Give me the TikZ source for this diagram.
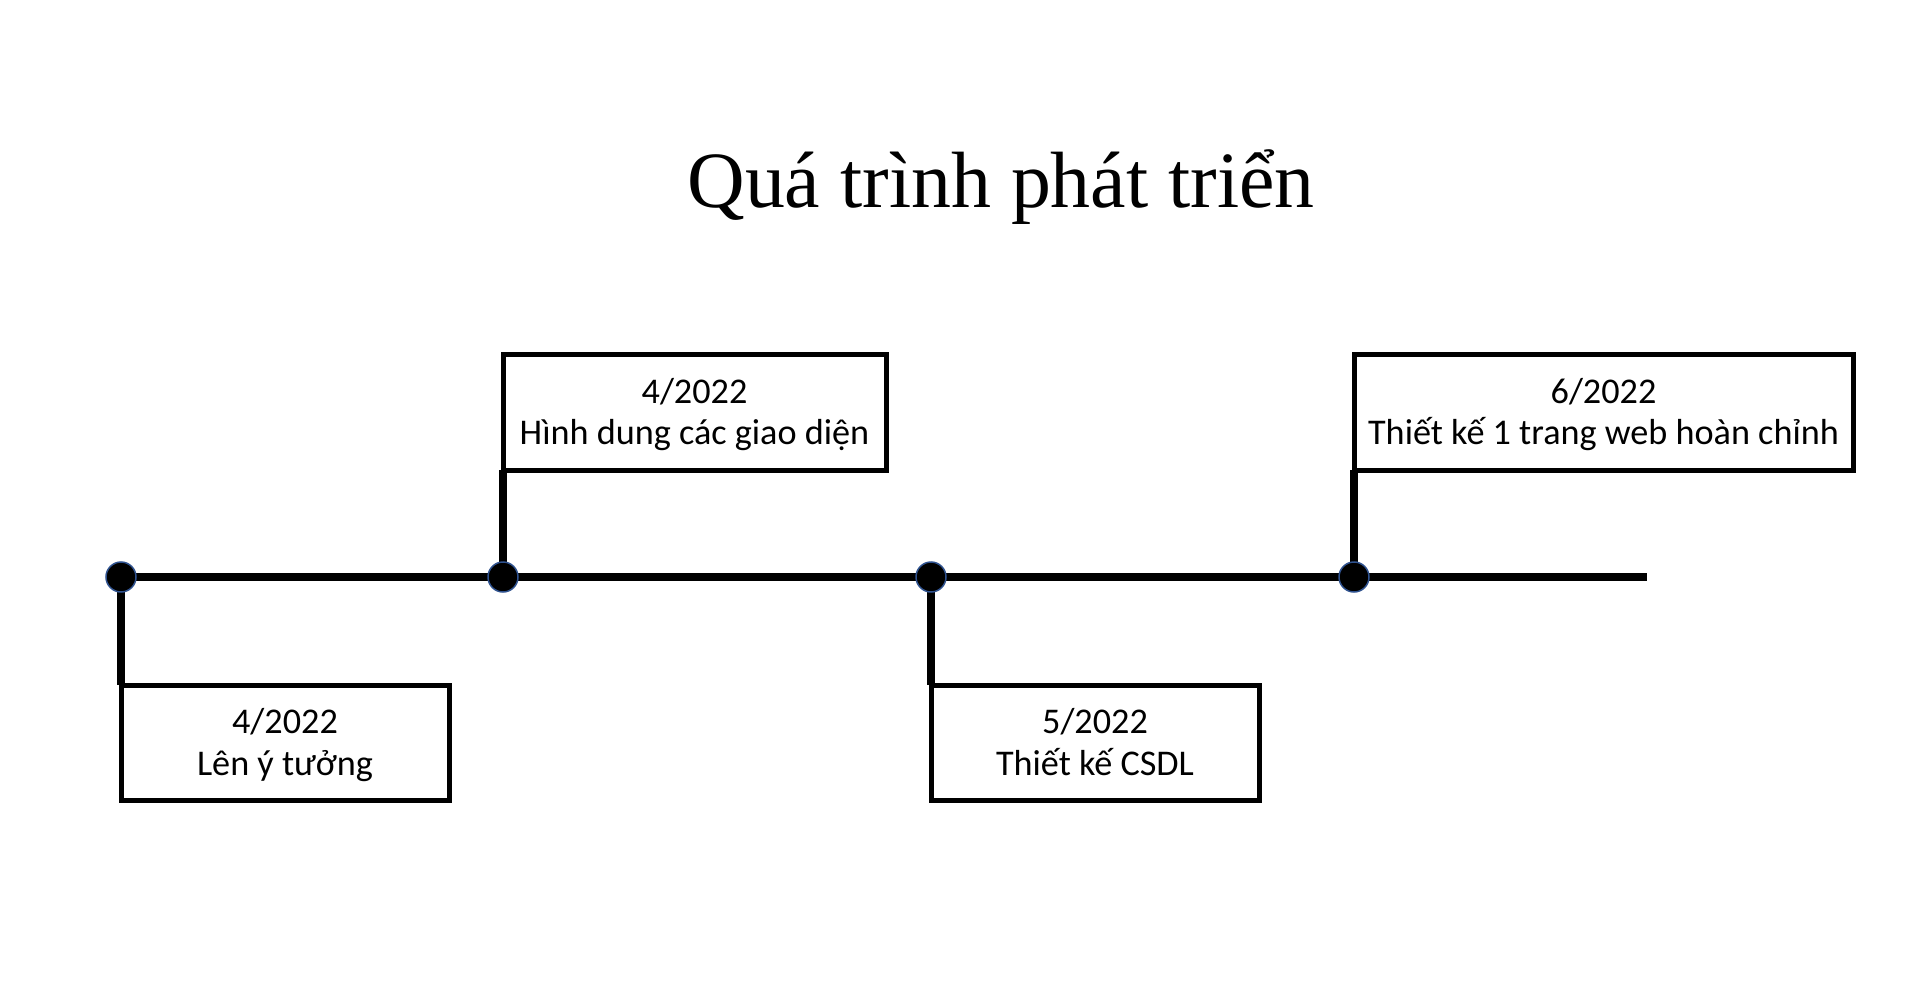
\documentclass[tikz,border=0pt]{standalone}
\usepackage{fontspec}
\setmainfont{Liberation Serif}
\newfontfamily\boxfont{Carlito}
\usetikzlibrary{backgrounds}
\definecolor{dotedge}{HTML}{2F528F}
\begin{document}
\begin{tikzpicture}[x=1pt,y=-1pt,
  axisline/.style={line width=7.5pt},
  stemline/.style={line width=7.5pt},
  event/.style={circle, fill=black, draw=dotedge, line width=1.5pt, minimum size=30pt, inner sep=0pt, outer sep=0pt},
  card/.style={draw=black, line width=5pt, fill=white, rectangle, inner sep=0pt, outer sep=0pt},
  cardtext/.style={font=\boxfont\fontsize{36.2}{43}\selectfont, anchor=base, inner sep=0pt}]
\useasboundingbox (0,0) rectangle (1920,987);
\node[font=\fontsize{79.8}{96}\selectfont, anchor=base, inner sep=0pt] (title) at (1001,208) {Quá trình phát triển};

% boxes
\node[card, minimum width=328pt, minimum height=115pt] (b1) at (285,742.5) {};
\node[card, minimum width=383pt, minimum height=116pt] (b2) at (694.5,412) {};
\node[card, minimum width=328pt, minimum height=115pt] (b3) at (1095,742.5) {};
\node[card, minimum width=499pt, minimum height=116pt] (b4) at (1603.5,412) {};

% texts
\node[cardtext] (t1a) at (285,733) {4/2022};
\node[cardtext] (t1b) at (285,775) {Lên ý tưởng};
\node[cardtext] (t2a) at (694.5,403) {4/2022};
\node[cardtext] (t2b) at (694.5,444) {Hình dung các giao diện};
\node[cardtext] (t3a) at (1095,733) {5/2022};
\node[cardtext] (t3b) at (1095,775) {Thiết kế CSDL};
\node[cardtext] (t4a) at (1603.5,403) {6/2022};
\node[cardtext] (t4b) at (1603.5,444) {Thiết kế 1 trang web hoàn chỉnh};

% events
\node[event] (d1) at (121,577) {};
\node[event] (d2) at (503,577) {};
\node[event] (d3) at (931,577) {};
\node[event] (d4) at (1354,577) {};
\coordinate (axend) at (1647,577);

\begin{scope}[on background layer]
  \draw[axisline] (d1.center) -- (d2.center) -- (d3.center) -- (d4.center) -- (axend);
  \draw[stemline] (d1.center) -- (d1.center |- b1.north);
  \draw[stemline] (d2.center) -- (d2.center |- b2.south);
  \draw[stemline] (d3.center) -- (d3.center |- b3.north);
  \draw[stemline] (d4.center) -- (d4.center |- b4.south);
\end{scope}
\end{tikzpicture}
\end{document}
